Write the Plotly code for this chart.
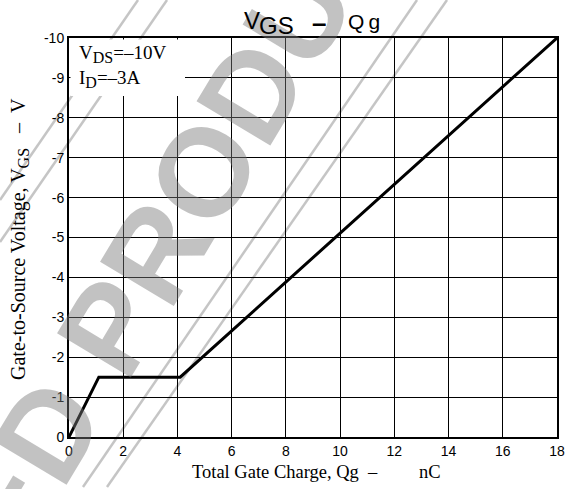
import plotly.graph_objects as go

# ---- data ----
qg = [0, 1.1, 4.1, 18]            # Total gate charge, nC
vgs = [0, -1.5, -1.5, -10]        # Gate-to-source voltage, V
x_ticks = [0, 2, 4, 6, 8, 10, 12, 14, 16, 18]
y_ticks = [0, -1, -2, -3, -4, -5, -6, -7, -8, -9, -10]
y_tick_labels = ["0", "-1", "-2", "-3", "-4", "-5", "-6", "-7", "-8", "-9", "-10"]

W, H = 580, 489
ML, MR, MT, MB = 69, 23, 38, 52
PW, PH = W - ML - MR, H - MT - MB


def px(x):
    return (x - ML) / PW


def py(y):
    return (H - MB - y) / PH


SANS = "Liberation Sans, Arial, sans-serif"
SERIF = "Liberation Serif, Times New Roman, serif"
NB = "\u00a0"

fig = go.Figure()
fig.add_trace(go.Scatter(x=qg, y=vgs, mode="lines",
                         line=dict(color="black", width=3), showlegend=False,
                         hoverinfo="skip"))

axis_common = dict(showgrid=True, gridcolor="black", gridwidth=1,
                   showline=True, linecolor="black", linewidth=2, mirror=True,
                   zeroline=False, ticks="", tickfont=dict(family=SANS, size=14, color="black"))

fig.update_xaxes(range=[0, 18], tickvals=x_ticks, **axis_common)
fig.update_yaxes(range=[0, -10], tickvals=y_ticks, ticktext=y_tick_labels, **axis_common)

shapes = []
# watermark stripes
stripe = dict(color="rgba(150,150,150,0.55)", width=2.5)
for (x0, y0, x1, y1) in [(417, 0, 83, 487), (447, 0, 107, 487),
                         (138, 0, 0, 200), (167, 0, 0, 242)]:
    shapes.append(dict(type="line", xref="paper", yref="paper", layer="below",
                       x0=px(x0), y0=py(y0), x1=px(x1), y1=py(y1), line=stripe))
# white condition box
shapes.append(dict(type="rect", xref="paper", yref="paper", layer="above",
                   x0=px(ML + 1.5), x1=px(185), y0=py(96), y1=py(MT + 1.5),
                   fillcolor="white", line=dict(width=0)))


def label(text, x, y, size, family=SANS, xanchor="left", **kw):
    return dict(text=text, xref="paper", yref="paper", x=px(x), y=py(y),
                xanchor=xanchor, yanchor="middle", showarrow=False,
                font=dict(family=family, size=size, color="black"), **kw)


annotations = [
    # watermark
    dict(text="DISCONTINUED PRODUCT", xref="paper", yref="paper",
         x=px(-6), y=py(520), xanchor="center", yanchor="middle",
         textangle=-59, showarrow=False,
         font=dict(family=SANS, size=125, color="rgba(120,120,120,0.45)", weight="bold")),
    # conditions
    dict(text="V<sub><span style='font-size:16px'>DS</span></sub>=–10V<br>"
              "I<sub><span style='font-size:16px'>D</span></sub>=–3A",
         xref="paper", yref="paper", x=px(77), y=py(66.5),
         xanchor="left", yanchor="middle", align="left", showarrow=False,
         font=dict(family=SERIF, size=19, color="black")),
    # title pieces
    label("V", 242, 20.8, 24),
    label("GS", 257, 25.8, 24),
    label("<b>–</b>", 310, 22.7, 26),
    label("Q\u2009g", 346, 21.7, 21),
    # x-axis title
    label("Total Gate Charge, Qg" + NB * 2 + "–" + NB * 9 + "nC", 190, 472, 18.5, family=SERIF),
    # y-axis title
    dict(text="Gate-to-Source Voltage, V<sub><span style='font-size:16px'>GS</span></sub>"
              + NB * 3 + "–" + NB * 2 + "V", xref="paper", yref="paper",
         x=px(19), y=py(239), xanchor="center", yanchor="middle", textangle=-90,
         showarrow=False, font=dict(family=SERIF, size=20, color="black")),
]

fig.update_layout(width=W, height=H, margin=dict(l=ML, r=MR, t=MT, b=MB),
                  paper_bgcolor="white", plot_bgcolor="white",
                  shapes=shapes, annotations=annotations, showlegend=False)

fig.write_html("out.html", config={"displayModeBar": False},
               post_script="document.body.style.margin='0';")
